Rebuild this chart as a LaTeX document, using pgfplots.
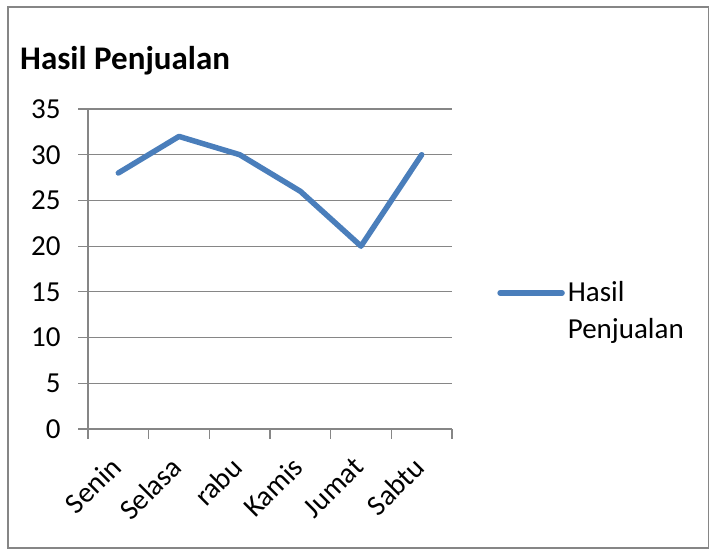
\documentclass[border=0pt]{standalone}
\usepackage{pgfplots}
\pgfplotsset{compat=1.18}
\usepackage{fontspec}
\setmainfont{Carlito}
\definecolor{gridgray}{RGB}{134,134,134}
\definecolor{lineblue}{RGB}{74,126,187}
\begin{document}
\begin{tikzpicture}[x=1bp,y=1bp]
\useasboundingbox (0,0) rectangle (710,549);
\draw[gridgray, line width=1.5bp] (8,1) rectangle (708.5,542);
\node[anchor=base west, inner sep=0pt, font=\fontsize{33bp}{38bp}\selectfont\bfseries] at (20,479) {Hasil Penjualan};
\begin{axis}[
  at={(88bp,120bp)}, anchor=south west,
  scale only axis, width=364bp, height=320bp,
  xmin=-0.5, xmax=5.5, ymin=0, ymax=35,
  ytick={0,5,...,35},
  xtick={-0.5,0.5,...,5.5},
  x tick label as interval,
  xticklabels={Senin,Selasa,rabu,Kamis,Jumat,Sabtu},
  ymajorgrids, grid style={gridgray, line width=1.2bp},
  axis x line*=bottom, axis y line*=left,
  axis line style={gridgray, line width=1.2bp, -},
  tick align=outside, major tick length=10bp,
  tick style={gridgray, line width=1.2bp},
  tick label style={font=\fontsize{29bp}{35bp}\selectfont, black},
  /pgf/number format/assume math mode=true,
  xticklabel style={shift={(0bp,-21bp)}, rotate=45, anchor=east},
  yticklabel style={xshift=-14bp},
  legend style={at={(1.124,0.369)}, anchor=west, draw=none, fill=none,
    inner sep=0pt,
    font=\fontsize{29bp}{37bp}\selectfont, nodes={align=left, inner sep=3bp}},
  legend cell align=left,
  legend image code/.code={\draw[#1, line width=5.5bp, line cap=round] (-2bp,18bp) -- (60bp,18bp);},
]
\addplot[lineblue, line width=5.5bp, line join=round, line cap=round] coordinates {
 (0,28) (1,32) (2,30) (3,26) (4,20) (5,30)};
\addlegendentry{Hasil\\Penjualan}
\end{axis}
\end{tikzpicture}
\end{document}
